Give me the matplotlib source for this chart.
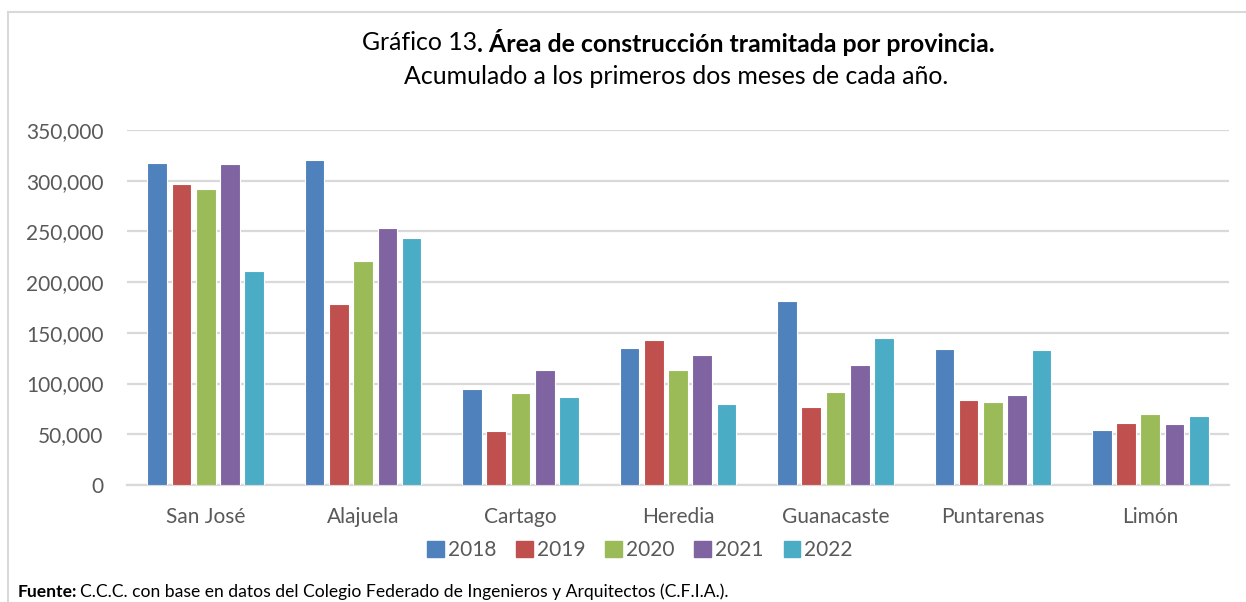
import numpy as np
import matplotlib.pyplot as plt
from matplotlib.lines import Line2D

provincias = ['San José', 'Alajuela', 'Cartago', 'Heredia', 'Guanacaste', 'Puntarenas', 'Limón']
anios = ['2018', '2019', '2020', '2021', '2022']
colores = ['#4F81BD', '#C0504D', '#9BBB59', '#8064A2', '#4BACC6']

v2018 = [317200, 320100, 94600, 135400, 181700, 133800, 53900]
v2019 = [296500, 178800, 53200, 143000, 77200, 83500, 60800]
v2020 = [291500, 220500, 90400, 113100, 91400, 81500, 69700]
v2021 = [316200, 253700, 113400, 128200, 118600, 88700, 59800]
v2022 = [211000, 243500, 87100, 80200, 144900, 133100, 68300]
series = [v2018, v2019, v2020, v2021, v2022]

yticks = [0, 50000, 100000, 150000, 200000, 250000, 300000, 350000]

plt.rcParams['font.family'] = ['Lato', 'DejaVu Sans']
W, H = 1246, 602
fig = plt.figure(figsize=(W / 100, H / 100), dpi=100)
ax = fig.add_axes([127 / W, 1 - 485 / H, (1229 - 127) / W, (485 - 130) / H])

x = np.arange(len(provincias))
pitch = 0.154
width = 0.125
for i, (vals, col) in enumerate(zip(series, colores)):
    ax.bar(x + (i - 2) * pitch, vals, width, color=col, edgecolor='white',
           linewidth=0.8, label=anios[i], zorder=3)

ax.set_xlim(-0.5, len(provincias) - 0.5)
ax.set_ylim(0, 350000)
ax.set_yticks(yticks)
ax.set_yticklabels([f'{v:,}' for v in yticks])
ax.set_xticks(x)
ax.set_xticklabels(provincias)
ax.tick_params(axis='both', length=0, labelsize=15, colors='#595959')
ax.tick_params(axis='y', pad=17)
ax.tick_params(axis='x', pad=16)
ax.yaxis.grid(True, color='#D9D9D9', linewidth=1.6, zorder=0)
for s in ['top', 'right', 'left']:
    ax.spines[s].set_visible(False)
ax.spines['bottom'].set_color('#D9D9D9')
ax.spines['bottom'].set_linewidth(1.6)

renderer = fig.canvas.get_renderer()

# titulo, parte normal + parte en negrita centradas juntas
t1 = fig.text(0, 1 - 42 / H, 'Gráfico 13', ha='left', va='center', fontsize=17.9, color='black')
t2 = fig.text(0, 1 - 42 / H, '. Área de construcción tramitada por provincia.', ha='left',
              va='center', fontsize=17.9, fontweight='bold', color='black')
w1 = t1.get_window_extent(renderer).width
w2 = t2.get_window_extent(renderer).width
x0 = 678 - (w1 + w2) / 2
t1.set_x(x0 / W)
t2.set_x((x0 + w1) / W)
fig.text(676 / W, 1 - 76 / H, 'Acumulado a los primeros dos meses de cada año.', ha='center',
         va='center', fontsize=17.9, color='black')

# leyenda
handles = [plt.Rectangle((0, 0), 1, 1, color=c) for c in colores]
fig.legend(handles, anios, loc='center', bbox_to_anchor=(640 / W, 1 - 550 / H), ncol=5,
           frameon=False, fontsize=15, handlelength=0.8, handleheight=0.8,
           handletextpad=0.2, columnspacing=0.95, labelcolor='#595959')

# fuente
f1 = fig.text(18 / W, 1 - 592 / H, 'Fuente:', ha='left', va='center', fontsize=12.6,
              fontweight='bold', color='black')
wf = f1.get_window_extent(renderer).width
fig.text((18 + wf + 3) / W, 1 - 592 / H,
         'C.C.C. con base en datos del Colegio Federado de Ingenieros y Arquitectos (C.F.I.A.).',
         ha='left', va='center', fontsize=12.6, color='black')

# marco
fig.add_artist(Line2D([8 / W, 8 / W], [0, 1 - 12 / H], color='#D9D9D9', linewidth=1.5))
fig.add_artist(Line2D([8 / W, 1], [1 - 12 / H, 1 - 12 / H], color='#D9D9D9', linewidth=1.5))

fig.savefig('out.png', dpi=100)
